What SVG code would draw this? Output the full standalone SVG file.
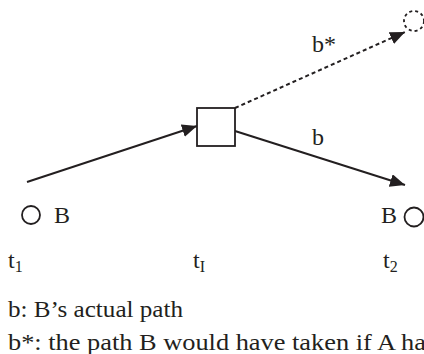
<svg xmlns="http://www.w3.org/2000/svg" width="424" height="354" viewBox="0 0 424 354">
<style>
text{font-family:"Liberation Serif","DejaVu Serif","Times New Roman",serif;fill:#231f20;font-size:24px}
.sub{font-size:16px}
.ln{stroke:#231f20;stroke-width:2;fill:none}
.dash{stroke-dasharray:4,3}
.node{stroke:#231f20;stroke-width:1.8;fill:#fff}
</style>
<defs>
<marker id="ah" markerUnits="userSpaceOnUse" markerWidth="16" markerHeight="14" refX="15" refY="6.5" orient="auto">
<path d="M0,0 L15,6.5 L0,13 z" fill="#231f20"/>
</marker>
</defs>
<g font-family="Liberation Serif, DejaVu Serif, serif">
<g id="connectors">
<line class="ln" x1="27" y1="182" x2="197" y2="126" marker-end="url(#ah)"/>
<line class="ln dash" x1="235" y1="108" x2="405" y2="32" marker-end="url(#ah)"/>
<line class="ln" x1="235" y1="131" x2="405" y2="185" marker-end="url(#ah)"/>
<text x="312" y="52">b*</text>
<text x="312" y="145">b</text>
</g>
<g id="decision">
<rect class="node" x="197" y="108" width="38" height="38"/>
</g>
<g id="counterfactual">
<circle class="node dash" cx="414" cy="21" r="10" style="stroke-dasharray:3,3"/>
</g>
<g id="B-start">
<circle class="node" cx="31" cy="215" r="9"/>
<text x="54" y="223">B</text>
</g>
<g id="B-end">
<text x="381" y="223">B</text>
<circle class="node" cx="414" cy="217" r="9.5"/>
</g>
<g id="times">
<text x="8" y="268">t<tspan class="sub" dy="4">1</tspan></text>
<text x="193" y="268">t<tspan class="sub" dy="4">I</tspan></text>
<text x="383" y="268">t<tspan class="sub" dy="4">2</tspan></text>
</g>
<g id="legend">
<text x="8" y="317" textLength="175" lengthAdjust="spacingAndGlyphs">b: B’s actual path</text>
<text x="8" y="350" textLength="418" lengthAdjust="spacingAndGlyphs">b*: the path B would have taken if A ha</text>
</g>
</g>
</svg>
